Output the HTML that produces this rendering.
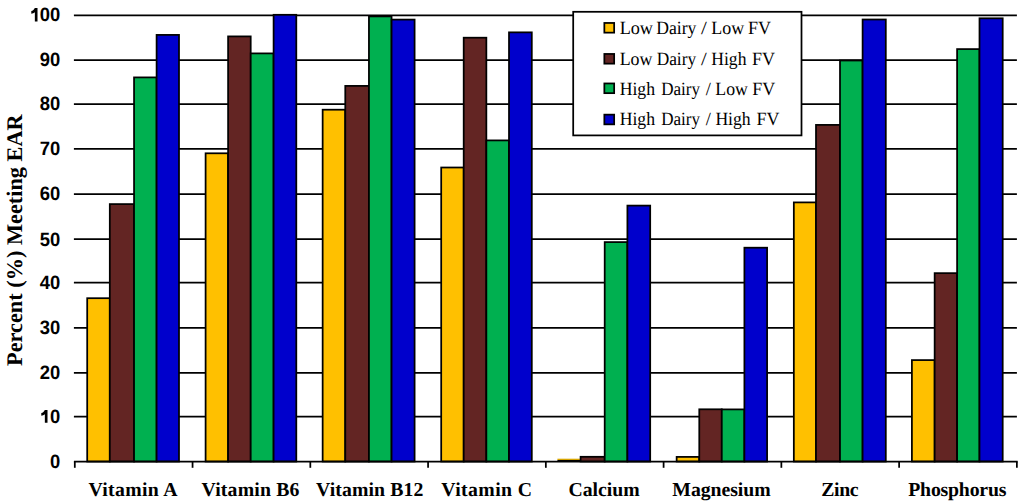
<!DOCTYPE html>
<html><head><meta charset="utf-8"><title>Percent Meeting EAR</title><style>
html,body{margin:0;padding:0;background:#fff;}
svg{display:block;}
text{text-rendering:geometricPrecision;fill:#000;}
.tl{font-family:"Liberation Sans",sans-serif;font-weight:bold;font-size:19.4px;}
.cl{font-family:"Liberation Serif",serif;font-weight:bold;font-size:19.75px;}
.yt{font-family:"Liberation Serif",serif;font-weight:bold;font-size:22.3px;}
.lg{font-family:"Liberation Serif",serif;font-size:18.75px;}
</style></head><body>
<svg width="1024" height="504" viewBox="0 0 1024 504">
<rect width="1024" height="504" fill="#fff"/>
<g stroke="#000" stroke-width="1.75">
<line x1="73.9" y1="15.3" x2="1016.9" y2="15.3"/>
<line x1="73.9" y1="60.2" x2="1016.9" y2="60.2"/>
<line x1="73.9" y1="104.0" x2="1016.9" y2="104.0"/>
<line x1="73.9" y1="148.8" x2="1016.9" y2="148.8"/>
<line x1="73.9" y1="194.0" x2="1016.9" y2="194.0"/>
<line x1="73.9" y1="239.1" x2="1016.9" y2="239.1"/>
<line x1="73.9" y1="282.6" x2="1016.9" y2="282.6"/>
<line x1="73.9" y1="327.9" x2="1016.9" y2="327.9"/>
<line x1="73.9" y1="372.9" x2="1016.9" y2="372.9"/>
<line x1="73.9" y1="416.6" x2="1016.9" y2="416.6"/>
</g>
<rect x="557.40" y="458.7" width="23.20" height="1.3" fill="#D8A500"/>
<rect x="557.40" y="460.0" width="23.20" height="1.5" fill="#000"/>
<g stroke="#000" stroke-width="1.75">
<rect x="87.20" y="298.2" width="22.60" height="163.30" fill="#FFC000"/>
<rect x="109.80" y="204.1" width="24.25" height="257.40" fill="#632523"/>
<rect x="134.05" y="77.4" width="22.55" height="384.10" fill="#00B050"/>
<rect x="156.60" y="34.9" width="22.40" height="426.60" fill="#0000CC"/>
<rect x="205.60" y="153.3" width="22.50" height="308.20" fill="#FFC000"/>
<rect x="228.10" y="36.4" width="22.60" height="425.10" fill="#632523"/>
<rect x="250.70" y="53.4" width="22.90" height="408.10" fill="#00B050"/>
<rect x="273.60" y="14.8" width="22.70" height="446.70" fill="#0000CC"/>
<rect x="322.65" y="109.7" width="22.62" height="351.80" fill="#FFC000"/>
<rect x="345.27" y="85.9" width="23.67" height="375.60" fill="#632523"/>
<rect x="368.94" y="16.4" width="22.62" height="445.10" fill="#00B050"/>
<rect x="391.56" y="19.6" width="23.04" height="441.90" fill="#0000CC"/>
<rect x="441.20" y="167.5" width="22.50" height="294.00" fill="#FFC000"/>
<rect x="463.70" y="37.7" width="22.65" height="423.80" fill="#632523"/>
<rect x="486.35" y="140.4" width="22.65" height="321.10" fill="#00B050"/>
<rect x="509.00" y="32.35" width="22.80" height="429.15" fill="#0000CC"/>
<rect x="580.60" y="456.8" width="24.10" height="4.70" fill="#632523"/>
<rect x="604.70" y="242.1" width="22.70" height="219.40" fill="#00B050"/>
<rect x="627.40" y="205.6" width="22.80" height="255.90" fill="#0000CC"/>
<rect x="676.65" y="456.9" width="22.62" height="4.60" fill="#FFC000"/>
<rect x="699.27" y="409.3" width="22.50" height="52.20" fill="#632523"/>
<rect x="721.77" y="409.4" width="22.63" height="52.10" fill="#00B050"/>
<rect x="744.40" y="247.7" width="22.70" height="213.80" fill="#0000CC"/>
<rect x="793.83" y="202.4" width="22.17" height="259.10" fill="#FFC000"/>
<rect x="816.00" y="124.9" width="24.00" height="336.60" fill="#632523"/>
<rect x="840.00" y="60.5" width="22.60" height="401.00" fill="#00B050"/>
<rect x="862.60" y="19.5" width="23.20" height="442.00" fill="#0000CC"/>
<rect x="911.90" y="360.1" width="22.75" height="101.40" fill="#FFC000"/>
<rect x="934.65" y="273.15" width="22.45" height="188.35" fill="#632523"/>
<rect x="957.10" y="49.1" width="22.40" height="412.40" fill="#00B050"/>
<rect x="979.50" y="18.3" width="23.20" height="443.20" fill="#0000CC"/>
</g>
<g stroke="#000" stroke-width="1.75">
<line x1="73.9" y1="461.5" x2="1017.65" y2="461.5"/>
<line x1="74.80" y1="461.5" x2="74.80" y2="467.8"/>
<line x1="192.56" y1="461.5" x2="192.56" y2="467.8"/>
<line x1="310.32" y1="461.5" x2="310.32" y2="467.8"/>
<line x1="428.08" y1="461.5" x2="428.08" y2="467.8"/>
<line x1="545.84" y1="461.5" x2="545.84" y2="467.8"/>
<line x1="663.60" y1="461.5" x2="663.60" y2="467.8"/>
<line x1="781.36" y1="461.5" x2="781.36" y2="467.8"/>
<line x1="899.12" y1="461.5" x2="899.12" y2="467.8"/>
<line x1="1016.88" y1="461.5" x2="1016.88" y2="467.8"/>
</g>
<rect x="573.2" y="11.8" width="228.3" height="123.6" fill="#fff" stroke="#000" stroke-width="1.75"/>
<rect x="604.35" y="22.95" width="9.8" height="9.7" fill="#FFC000" stroke="#000" stroke-width="1.75"/>
<text transform="translate(619.65,34.4) scale(0.9694,1)" class="lg">Low</text>
<text transform="translate(656.18,34.4) scale(0.9411,1)" class="lg">Dairy</text>
<text transform="translate(700.94,34.4) scale(1.1175,1)" class="lg">/</text>
<text transform="translate(711.26,34.4) scale(0.9574,1)" class="lg">Low</text>
<text transform="translate(747.90,34.4) scale(0.9599,1)" class="lg">FV</text>
<rect x="604.35" y="53.95" width="9.8" height="9.7" fill="#632523" stroke="#000" stroke-width="1.75"/>
<text transform="translate(619.67,64.9) scale(0.9544,1)" class="lg">Low</text>
<text transform="translate(656.64,64.9) scale(0.9254,1)" class="lg">Dairy</text>
<text transform="translate(701.04,64.9) scale(1.0983,1)" class="lg">/</text>
<text transform="translate(711.28,64.9) scale(0.9372,1)" class="lg">High</text>
<text transform="translate(752.00,64.9) scale(0.9621,1)" class="lg">FV</text>
<rect x="604.35" y="83.45" width="9.8" height="9.7" fill="#00B050" stroke="#000" stroke-width="1.75"/>
<text transform="translate(619.67,95.1) scale(0.9427,1)" class="lg">High</text>
<text transform="translate(661.20,95.1) scale(0.9097,1)" class="lg">Dairy</text>
<text transform="translate(705.64,95.1) scale(0.9827,1)" class="lg">/</text>
<text transform="translate(715.37,95.1) scale(0.9484,1)" class="lg">Low</text>
<text transform="translate(752.21,95.1) scale(0.9577,1)" class="lg">FV</text>
<rect x="604.35" y="114.65" width="9.8" height="9.7" fill="#0000CC" stroke="#000" stroke-width="1.75"/>
<text transform="translate(619.67,125.4) scale(0.9427,1)" class="lg">High</text>
<text transform="translate(661.20,125.4) scale(0.9097,1)" class="lg">Dairy</text>
<text transform="translate(705.64,125.4) scale(0.9827,1)" class="lg">/</text>
<text transform="translate(715.38,125.4) scale(0.9400,1)" class="lg">High</text>
<text transform="translate(756.51,125.4) scale(0.9577,1)" class="lg">FV</text>
<text transform="translate(60.35,21.20) scale(0.95,1)" text-anchor="end" class="tl">00</text>
<text transform="translate(60.35,66.40) scale(0.95,1)" text-anchor="end" class="tl">90</text>
<text transform="translate(60.35,110.30) scale(0.95,1)" text-anchor="end" class="tl">80</text>
<text transform="translate(60.35,155.10) scale(0.95,1)" text-anchor="end" class="tl">70</text>
<text transform="translate(60.35,200.30) scale(0.95,1)" text-anchor="end" class="tl">60</text>
<text transform="translate(60.35,245.50) scale(0.95,1)" text-anchor="end" class="tl">50</text>
<text transform="translate(60.35,288.90) scale(0.95,1)" text-anchor="end" class="tl">40</text>
<text transform="translate(60.35,334.20) scale(0.95,1)" text-anchor="end" class="tl">30</text>
<text transform="translate(60.35,379.20) scale(0.95,1)" text-anchor="end" class="tl">20</text>
<text transform="translate(60.35,423.00) scale(0.95,1)" text-anchor="end" class="tl">0</text>
<text transform="translate(60.35,467.85) scale(0.95,1)" text-anchor="end" class="tl">0</text>
<text x="88.43" y="496.0" class="cl" style="letter-spacing:0.318px">Vitamin A</text>
<text x="201.43" y="496.0" class="cl" style="letter-spacing:0.188px">Vitamin B6</text>
<text x="316.03" y="496.0" class="cl" style="letter-spacing:0.111px">Vitamin B12</text>
<text x="441.33" y="496.0" class="cl" style="letter-spacing:0.378px">Vitamin C</text>
<text x="568.41" y="496.0" class="cl" style="letter-spacing:-0.009px">Calcium</text>
<text x="672.31" y="496.0" class="cl" style="letter-spacing:-0.054px">Magnesium</text>
<text x="821.15" y="496.0" class="cl" style="letter-spacing:-0.337px">Zinc</text>
<text x="908.21" y="496.0" class="cl" style="letter-spacing:-0.186px">Phosphorus</text>
<path d="M37.5,7.9 L37.5,21.45 L34.85,21.45 L34.85,12.30 C34.00,13.00 32.60,13.50 31.30,13.80 L31.30,11.10 C32.80,10.60 34.20,9.40 34.80,7.9 Z" fill="#000"/>
<path d="M47.5,409.9 L47.5,422.8 L44.85,422.8 L44.85,414.30 C44.00,415.00 42.60,415.50 41.30,415.80 L41.30,413.10 C42.80,412.60 44.20,411.40 44.80,409.9 Z" fill="#000"/>
<text transform="translate(21.8,365.96) rotate(-90)" class="yt">Percent (%) Meeting EAR</text>
</svg>
</body></html>
